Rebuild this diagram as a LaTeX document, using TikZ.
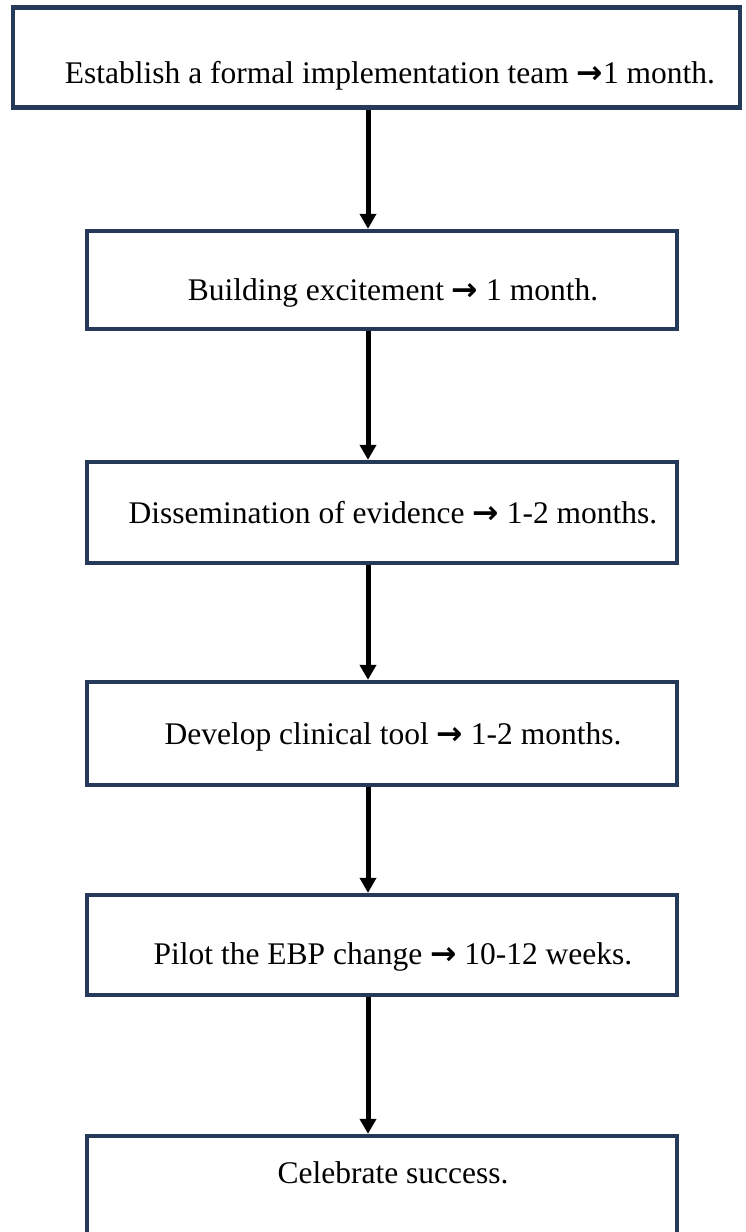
\documentclass[tikz,border=0pt]{standalone}
\usepackage{fontspec}
\setmainfont{Liberation Serif}
\newfontfamily\arrowfont{DejaVu Sans}
\usepackage{tikz}
\usetikzlibrary{positioning,calc}
\usetikzlibrary{arrows.meta}
\definecolor{boxblue}{RGB}{36,58,88}

\newcommand{\stagearrow}{{\arrowfont\bfseries →}}

\tikzset{
    stagebox/.style={draw=boxblue, line width=4.3pt, minimum width=590pt,
        minimum height=100pt, inner sep=0pt},
    stagetext/.style={anchor=base, inner sep=0pt,
        font=\fontsize{31.5}{36}\selectfont},
    flowarrow/.style={line width=5pt, -{Triangle[length=15pt,width=16pt]}}
}

\begin{document}
\begin{tikzpicture}[x=1pt,y=-1pt]
    \useasboundingbox (0,0) rectangle (745,1232);
    \coordinate (axis) at (368,0);

    % Top box is wider than the rest
    \node[stagebox, minimum width=727pt] (team) at (376.5,57.5) {};
    \node[stagetext] (teamtext) at (390,83)
        {Establish a formal implementation team \stagearrow1 month.};

    % The other stages
    \foreach \name/\y/\h/\base/\txt in {
        excite/280/98/300/{Building excitement \stagearrow{} 1 month.},
        dissem/512.5/101/523/{Dissemination of evidence \stagearrow{} 1-2 months.},
        tool/733.5/103/744/{Develop clinical tool \stagearrow{} 1-2 months.},
        pilot/945/100/964/{Pilot the EBP change \stagearrow{} 10-12 weeks.},
        celebrate/1186/100/1183/{Celebrate success.}}{
        \node[stagebox, minimum height=\h pt] (\name) at (382,\y) {};
        \node[stagetext] (\name text) at (393,\base) {\txt};
    }

    % Arrows between stages
    \foreach \from/\to in {team/excite, excite/dissem, dissem/tool,
        tool/pilot, pilot/celebrate}
        \draw[flowarrow] (\from.south -| axis) -- (\to.north -| axis);
\end{tikzpicture}
\end{document}
